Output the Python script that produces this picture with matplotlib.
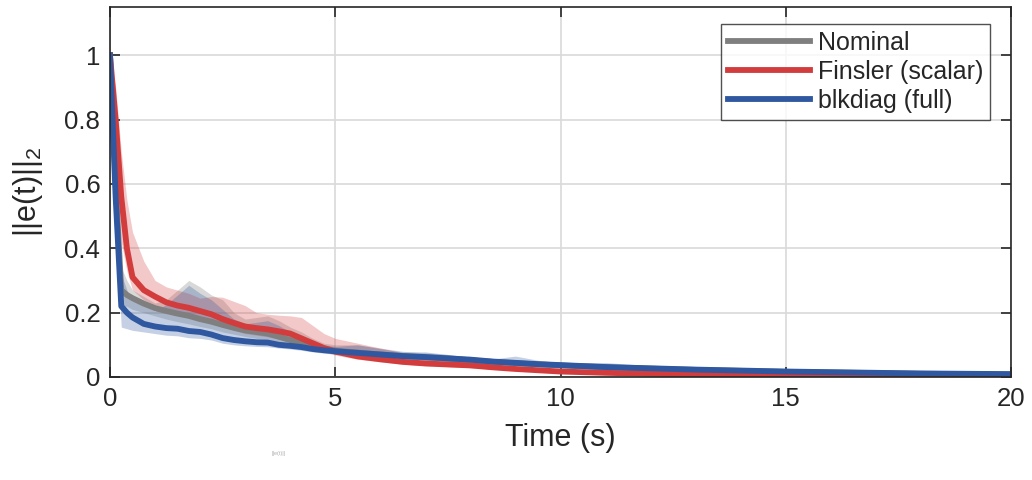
import matplotlib
matplotlib.use("Agg")
import matplotlib.pyplot as plt
import numpy as np

plt.rcParams['font.family'] = ['Liberation Sans', 'DejaVu Sans']

time = [0, 0.125, 0.25, 0.375, 0.5, 0.75, 1.0, 1.25, 1.5, 1.75, 2.0, 2.25, 2.5, 2.75,
        3.0, 3.25, 3.5, 3.75, 4.0, 4.25, 4.5, 4.75, 5.0, 5.5, 6, 6.5, 7, 7.5, 8,
        8.5, 9, 9.5, 10, 11, 12, 13, 14, 15, 16, 17, 18, 19, 20]

nominal = [1.0, 0.6, 0.27, 0.255, 0.245, 0.228, 0.214, 0.205, 0.197, 0.19, 0.18, 0.172,
           0.162, 0.153, 0.145, 0.14, 0.135, 0.125, 0.115, 0.105, 0.095, 0.088, 0.082,
           0.076, 0.070, 0.065, 0.061, 0.057, 0.052, 0.047, 0.043, 0.039, 0.036, 0.030,
           0.026, 0.022, 0.019, 0.016, 0.014, 0.012, 0.010, 0.009, 0.008]
nominal_hi = [1.0, 0.7, 0.34, 0.3, 0.27, 0.25, 0.23, 0.24, 0.27, 0.30, 0.28, 0.255, 0.24,
              0.2, 0.18, 0.185, 0.19, 0.175, 0.155, 0.14, 0.12, 0.105, 0.1, 0.1, 0.09,
              0.08, 0.075, 0.07, 0.062, 0.055, 0.05, 0.045, 0.042, 0.036, 0.031, 0.026,
              0.022, 0.019, 0.016, 0.014, 0.012, 0.011, 0.01]
nominal_lo = [1.0, 0.5, 0.22, 0.22, 0.21, 0.2, 0.19, 0.18, 0.172, 0.165, 0.157, 0.15,
              0.14, 0.133, 0.126, 0.12, 0.115, 0.107, 0.1, 0.092, 0.085, 0.078, 0.072,
              0.066, 0.06, 0.055, 0.051, 0.048, 0.044, 0.04, 0.036, 0.033, 0.03, 0.025,
              0.021, 0.018, 0.016, 0.013, 0.011, 0.01, 0.008, 0.007, 0.006]

finsler = [1.0, 0.80, 0.56, 0.40, 0.31, 0.27, 0.25, 0.232, 0.222, 0.215, 0.205, 0.195,
           0.180, 0.168, 0.157, 0.152, 0.148, 0.142, 0.135, 0.12, 0.105, 0.09, 0.079,
           0.064, 0.055, 0.047, 0.042, 0.039, 0.036, 0.03, 0.025, 0.021, 0.017, 0.013,
           0.010, 0.008, 0.006, 0.005, 0.004, 0.003, 0.002, 0.002, 0.002]
finsler_hi = [1.0, 0.9, 0.7, 0.55, 0.45, 0.36, 0.30, 0.28, 0.27, 0.26, 0.245, 0.25, 0.248,
              0.235, 0.222, 0.20, 0.195, 0.192, 0.19, 0.185, 0.16, 0.135, 0.12, 0.105,
              0.09, 0.075, 0.068, 0.062, 0.05, 0.04, 0.032, 0.028, 0.022, 0.017, 0.013,
              0.01, 0.008, 0.007, 0.006, 0.005, 0.004, 0.003, 0.003]
finsler_lo = [1.0, 0.7, 0.42, 0.33, 0.27, 0.24, 0.22, 0.205, 0.195, 0.185, 0.175, 0.168,
              0.155, 0.145, 0.135, 0.13, 0.125, 0.118, 0.11, 0.098, 0.088, 0.078, 0.068,
              0.055, 0.047, 0.04, 0.035, 0.032, 0.029, 0.024, 0.02, 0.017, 0.013, 0.010,
              0.008, 0.006, 0.005, 0.004, 0.003, 0.002, 0.001, 0.001, 0.001]

blkdiag = [1.0, 0.56, 0.22, 0.20, 0.185, 0.165, 0.157, 0.152, 0.150, 0.143, 0.140, 0.132,
           0.121, 0.115, 0.111, 0.108, 0.107, 0.100, 0.097, 0.093, 0.087, 0.083, 0.080,
           0.075, 0.070, 0.065, 0.062, 0.058, 0.054, 0.048, 0.044, 0.040, 0.037, 0.031,
           0.027, 0.023, 0.020, 0.017, 0.015, 0.013, 0.011, 0.010, 0.009]
blkdiag_hi = [1.0, 0.7, 0.32, 0.27, 0.24, 0.22, 0.205, 0.225, 0.255, 0.285, 0.26, 0.24,
              0.21, 0.18, 0.165, 0.17, 0.175, 0.16, 0.14, 0.125, 0.11, 0.1, 0.095, 0.1,
              0.088, 0.078, 0.078, 0.07, 0.06, 0.056, 0.065, 0.052, 0.045, 0.045, 0.035,
              0.03, 0.025, 0.022, 0.02, 0.018, 0.016, 0.014, 0.013]
blkdiag_lo = [1.0, 0.5, 0.155, 0.15, 0.145, 0.14, 0.135, 0.13, 0.128, 0.122, 0.12, 0.115,
              0.105, 0.1, 0.097, 0.095, 0.094, 0.09, 0.087, 0.083, 0.078, 0.074, 0.071,
              0.066, 0.062, 0.058, 0.055, 0.051, 0.048, 0.043, 0.039, 0.036, 0.033, 0.028,
              0.024, 0.02, 0.018, 0.015, 0.013, 0.011, 0.01, 0.009, 0.008]

labels = ['Nominal', 'Finsler (scalar)', 'blkdiag (full)']
xticks = [0, 5, 10, 15, 20]
yticks = [0, 0.2, 0.4, 0.6, 0.8, 1]
ytick_labels = ['0', '0.2', '0.4', '0.6', '0.8', '1']

c_nom = '#7f7f7f'
c_fin = '#d23c3c'
c_blk = '#2f58a0'

fig = plt.figure(figsize=(10.32, 4.8), dpi=100)
ax = fig.add_axes([110/1032, 103/480, 901/1032, 370/480])

ax.fill_between(time, nominal_lo, nominal_hi, color=c_nom, alpha=0.3, lw=0)
ax.plot(time, nominal, color=c_nom, lw=4.2, label=labels[0])
ax.fill_between(time, finsler_lo, finsler_hi, color=c_fin, alpha=0.28, lw=0)
ax.plot(time, finsler, color=c_fin, lw=4.2, label=labels[1])
ax.fill_between(time, blkdiag_lo, blkdiag_hi, color=c_blk, alpha=0.28, lw=0)
ax.plot(time, blkdiag, color=c_blk, lw=4.2, label=labels[2])

ax.set_xlim(0, 20)
ax.set_ylim(0, 1.15)
ax.set_xticks(xticks)
ax.set_xticklabels([str(x) for x in xticks])
ax.set_yticks(yticks)
ax.set_yticklabels(ytick_labels)
ax.grid(True, color='#d9d9d9', lw=1.2)
ax.set_axisbelow(True)
ax.tick_params(direction='in', length=7, width=1.2, top=True, right=True,
               labelsize=18.5, colors='#262626', pad=7)
for s in ax.spines.values():
    s.set_color('#262626')
    s.set_linewidth(1.2)

ax.set_xlabel('Time (s)', fontsize=22, color='#262626', labelpad=9)
ax.set_ylabel('||e(t)||$_\\mathregular{2}$', fontsize=22, color='#262626', labelpad=14)

leg = ax.legend(loc='upper right', bbox_to_anchor=(0.9767, 0.954), fontsize=18,
                frameon=True, fancybox=False, handlelength=3.3, handletextpad=0.3,
                borderpad=0.28, labelspacing=0.2, borderaxespad=0)
leg.get_frame().set_edgecolor('#262626')
leg.get_frame().set_linewidth(1.0)
for t in leg.get_texts():
    t.set_color('#262626')

fig.text(272/1032, 1 - 455/480, '||e(t)||', fontsize=4, color='#b0b0b0')

fig.savefig('out.png', dpi=100)
